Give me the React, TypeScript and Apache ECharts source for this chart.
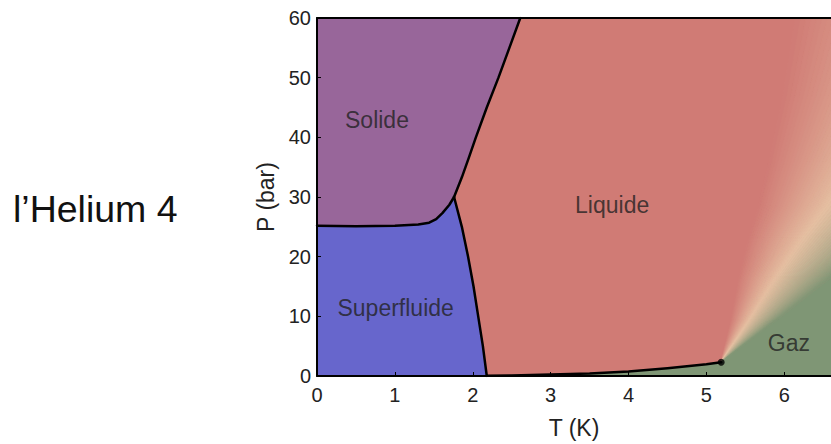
import React, { useEffect, useRef } from "react";
import * as echarts from "echarts";

// ---- data (T in K, P in bar) ----
const titleText = "l’Helium 4";
const xAxisName = "T (K)";
const yAxisName = "P (bar)";
const xMin = 0;
const xMax = 6.6;
const yMin = 0;
const yMax = 60;

const solidSuperfluidLine = [
  [0, 25.2], [0.5, 25.1], [1.0, 25.2], [1.3, 25.4], [1.44, 25.7],
  [1.53, 26.3], [1.61, 27.3], [1.7, 28.7], [1.76, 30],
];
const lambdaLine = [
  [1.76, 30], [1.86, 25], [1.94, 20], [2.01, 15], [2.07, 10], [2.13, 5], [2.18, 0],
];
const meltingLine = [
  [1.76, 30], [1.86, 33.3], [1.95, 36.6], [2.04, 40], [2.18, 45], [2.33, 50], [2.47, 55], [2.61, 60],
];
const vaporLine = [
  [2.18, 0.05], [2.5, 0.1], [3, 0.24], [3.5, 0.42], [4, 0.75], [4.5, 1.3], [5, 1.96], [5.19, 2.3],
];
const criticalPoint = [5.19, 2.3];
// centre of the light supercritical band
const widomLine = [
  [5.19, 2.3], [5.3, 4.5], [5.56, 9.5], [5.9, 16.6], [6.25, 23.2], [6.56, 28.5], [6.95, 36], [7.5, 47], [8.1, 60],
];
const regionNames = ["Solide", "Superfluide", "Liquide", "Gaz"];
const regionT = [0.77, 1.01, 3.79, 6.06];
const regionP = [42.9, 11.4, 28.7, 5.6];

// ---- styles ----
const FONT = "Liberation Sans";
const C_SOLID = "#98669A";
const C_SUPER = "#6766CC";
const C_LIQ = [208, 123, 117];
const C_PEACH = [229, 192, 162];
const C_GAS = [127, 150, 117];
const BAND_LIQ = 0.034; // band half-width growth (K per bar), liquid side
const BAND_GAS = 0.05; // gas side
const STRIPS = 56;

const rgb = (c: number[]) => `rgb(${c.map((v) => Math.round(v)).join(",")})`;
const mix = (a: number[], b: number[], f: number) => a.map((v, i) => v + (b[i] - v) * f);
const bandColor = (s: number) => (s < 0 ? mix(C_LIQ, C_PEACH, 1 + s) : mix(C_PEACH, C_GAS, s));
const iso = (s: number) =>
  widomLine.map(([t, p]) => [t + (s < 0 ? s * BAND_LIQ : s * BAND_GAS) * (p - criticalPoint[1]), p]);

const polygonSeries = (pts: number[][], color: string, z: number) => ({
  type: "custom",
  coordinateSystem: "cartesian2d",
  data: [[0, 0]],
  clip: true,
  silent: true,
  z,
  renderItem: (_params: any, api: any) => ({
    type: "polygon",
    shape: { points: pts.map((p) => api.coord(p)) },
    style: { fill: color, stroke: color, lineWidth: 0.6 },
  }),
});

const lineSeries = (pts: number[][]) => ({
  type: "line",
  data: pts,
  showSymbol: false,
  symbol: "none",
  silent: true,
  z: 15,
  lineStyle: { color: "#000", width: 2.5, cap: "round", join: "round" },
});

export default function App() {
  const ref = useRef<HTMLDivElement>(null);
  useEffect(() => {
    if (!ref.current) return;
    const chart = echarts.init(ref.current, undefined, { renderer: "svg" });

    const isoGas = iso(1);
    const liquidPoly = [
      ...lambdaLine.slice().reverse(),
      ...meltingLine.slice(1),
      [xMax + 1, 60],
      [xMax + 1, 0],
    ];
    const gasPoly = [[2.18, 0], ...vaporLine, ...isoGas.slice(1), [isoGas[isoGas.length - 1][0], 0]];
    const solidPoly = [[0, 60], ...solidSuperfluidLine, ...meltingLine.slice(1)];
    const superPoly = [[0, 0], ...solidSuperfluidLine, ...lambdaLine.slice(1)];

    const stripIdx = Array.from({ length: STRIPS }, (_, i) => [i, 0]);

    const option: any = {
      animation: false,
      textStyle: { fontFamily: FONT },
      grid: { left: 317, right: -3, top: 18, bottom: 64, containLabel: false },
      graphic: [
        {
          type: "text",
          left: 13,
          top: 190,
          style: { text: titleText, fontSize: 37.5, fontFamily: FONT, fill: "#111" },
        },
      ],
      xAxis: [
        {
          type: "value",
          min: xMin,
          max: xMax,
          interval: 1,
          z: 10,
          name: xAxisName,
          nameLocation: "middle",
          nameGap: 40,
          nameTextStyle: { fontSize: 23, color: "#222", fontFamily: FONT },
          axisLine: { show: true, onZero: false, lineStyle: { color: "#000", width: 2 } },
          axisTick: { show: true, inside: true, length: 4, lineStyle: { color: "#000", width: 1 } },
          axisLabel: {
            fontSize: 20,
            color: "#222",
            margin: 9,
            showMaxLabel: false,
            formatter: (v: number) => (Number.isInteger(v) ? String(v) : ""),
          },
          splitLine: { show: false },
        },
        {
          type: "value",
          position: "top",
          min: xMin,
          max: xMax,
          interval: 1,
          z: 10,
          axisLine: { show: true, onZero: false, lineStyle: { color: "#000", width: 2 } },
          axisTick: { show: false },
          axisLabel: { show: false },
          splitLine: { show: false },
        },
      ],
      yAxis: {
        type: "value",
        min: yMin,
        max: yMax,
        interval: 10,
        z: 10,
        name: yAxisName,
        nameLocation: "middle",
        nameGap: 34,
        nameRotate: 90,
        nameTextStyle: { fontSize: 23, color: "#222", fontFamily: FONT },
        axisLine: { show: true, onZero: false, lineStyle: { color: "#000", width: 2 } },
        axisTick: { show: true, inside: true, length: 4, lineStyle: { color: "#000", width: 1 } },
        axisLabel: { fontSize: 20, color: "#222", margin: 6 },
        splitLine: { show: false },
      },
      series: [
        polygonSeries(liquidPoly, rgb(C_LIQ), 2),
        polygonSeries(gasPoly, rgb(C_GAS), 3),
        {
          type: "custom",
          coordinateSystem: "cartesian2d",
          data: stripIdx,
          clip: true,
          silent: true,
          z: 4,
          renderItem: (params: any, api: any) => {
            const i = params.dataIndex;
            const s0 = -1 + (2 * i) / STRIPS;
            const s1 = -1 + (2 * (i + 1)) / STRIPS;
            const a = iso(s0);
            const b = iso(s1).reverse();
            const col = rgb(bandColor((s0 + s1) / 2));
            return {
              type: "polygon",
              shape: { points: [...a, ...b].map((p) => api.coord(p)) },
              style: { fill: col, stroke: col, lineWidth: 0.8 },
            };
          },
        },
        polygonSeries(solidPoly, C_SOLID, 5),
        polygonSeries(superPoly, C_SUPER, 5),
        lineSeries(solidSuperfluidLine),
        lineSeries(lambdaLine),
        lineSeries(meltingLine),
        lineSeries(vaporLine),
        {
          type: "scatter",
          data: [criticalPoint],
          symbolSize: 7,
          silent: true,
          z: 16,
          itemStyle: { color: "#000" },
        },
        {
          type: "scatter",
          silent: true,
          z: 20,
          symbolSize: 1,
          itemStyle: { color: "rgba(0,0,0,0)" },
          data: regionNames.map((n, i) => ({ name: n, value: [regionT[i], regionP[i]] })),
          label: {
            show: true,
            position: "inside",
            formatter: "{b}",
            fontSize: 23,
            color: "#222",
            fontFamily: FONT,
          },
        },
      ],
    };
    chart.setOption(option);
    return () => chart.dispose();
  }, []);

  return (
    <div
      ref={ref}
      style={{ position: "absolute", left: 0, top: 0, width: 831, height: 444, background: "#fff" }}
    />
  );
}
